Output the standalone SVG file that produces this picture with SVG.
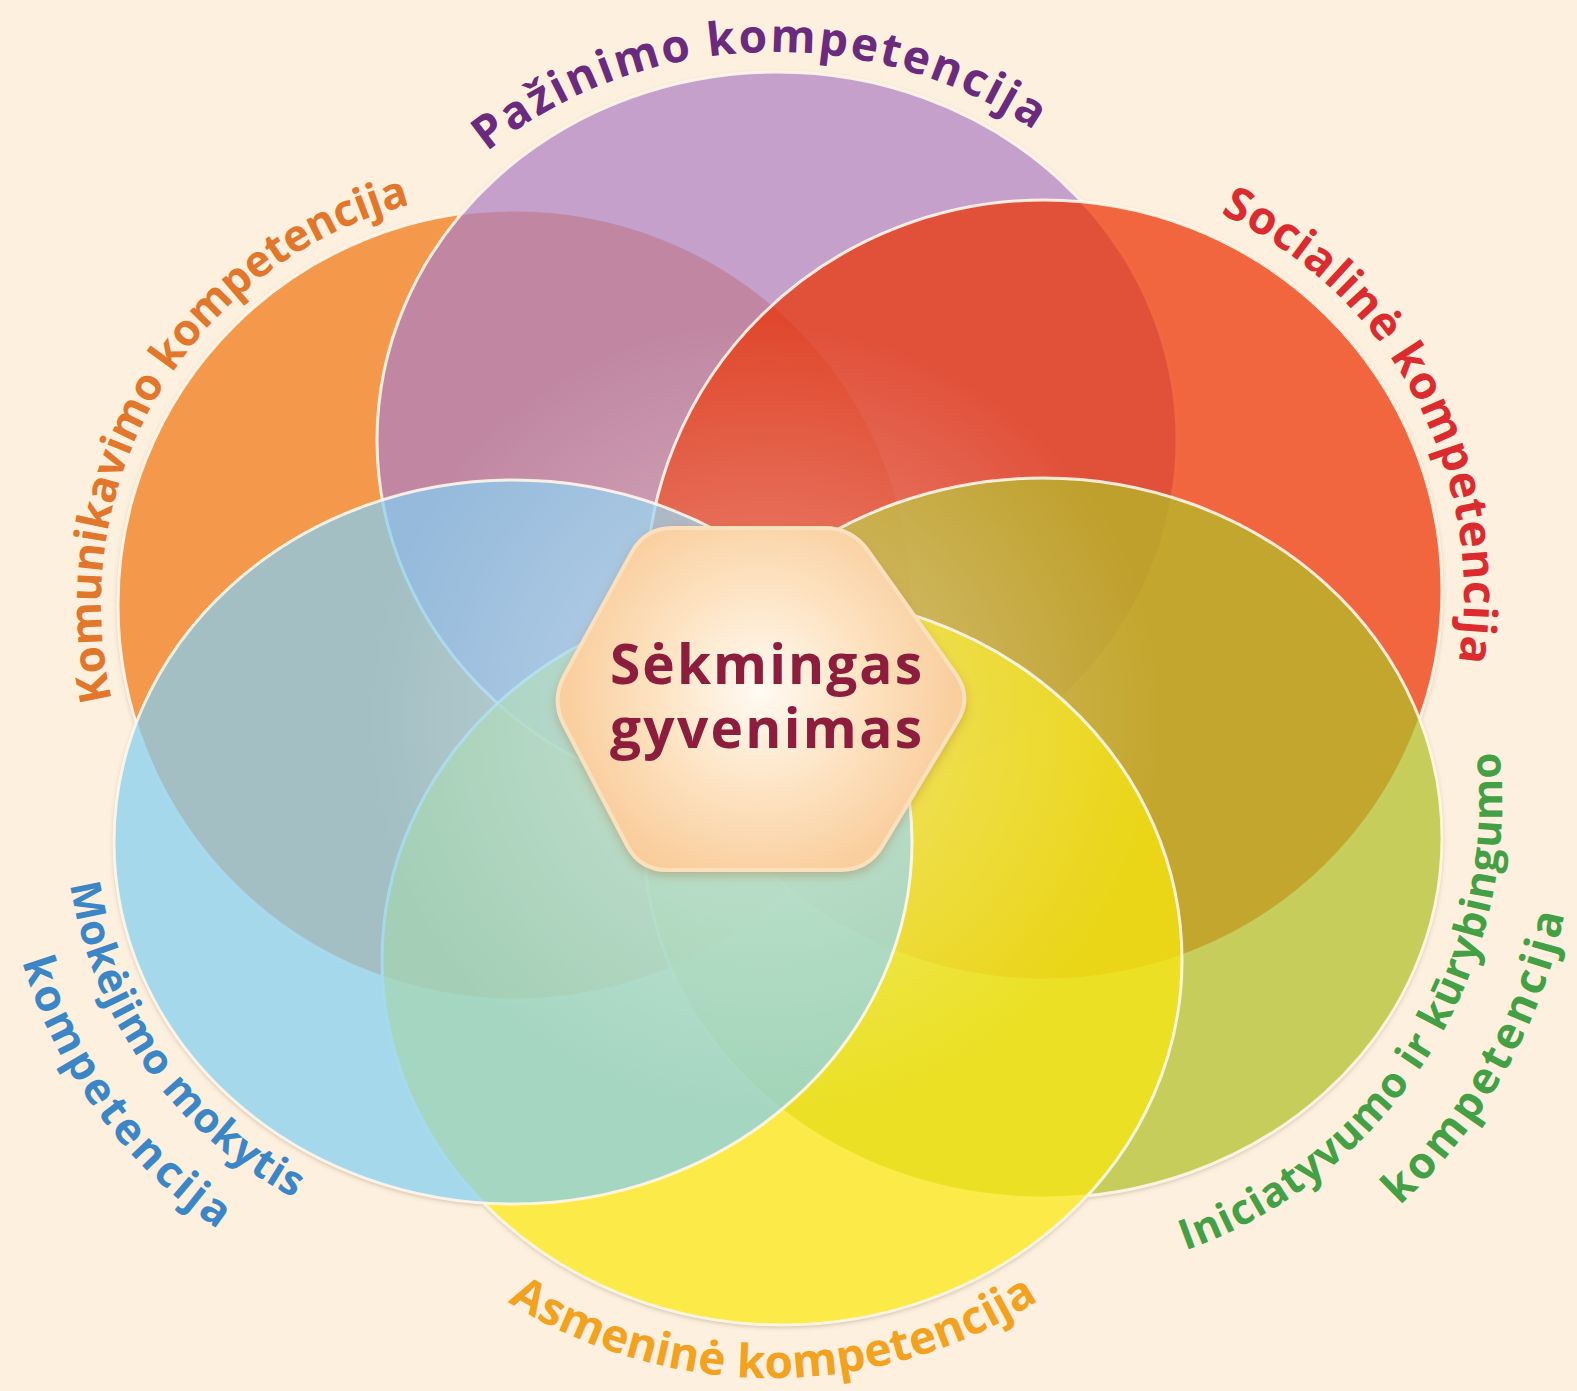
<svg xmlns="http://www.w3.org/2000/svg" width="1577" height="1391" viewBox="0 0 1577 1391">
<defs>
<style>
.lbl{font-family:"Open Sans","Noto Sans","DejaVu Sans",sans-serif;font-weight:700;font-size:46px}
.ctr{font-family:"Open Sans","Noto Sans","DejaVu Sans",sans-serif;font-weight:700;font-size:55px;fill:#8c1d3d}
.ring{stroke:#fff7ea;stroke-width:3;stroke-opacity:.9}
.c{fill-opacity:.72}
</style>
<filter id="sh" x="-10%" y="-10%" width="120%" height="120%">
<feDropShadow dx="0" dy="2" stdDeviation="2.5" flood-color="#7a5a45" flood-opacity=".4"/>
</filter>
<filter id="hsh" x="-20%" y="-20%" width="140%" height="140%">
<feDropShadow dx="0" dy="4" stdDeviation="5" flood-color="#a06a30" flood-opacity=".35"/>
</filter>
<radialGradient id="glow" cx="765" cy="720" r="400" gradientUnits="userSpaceOnUse">
<stop offset="0" stop-color="#fff" stop-opacity=".42"/>
<stop offset=".55" stop-color="#fff" stop-opacity=".18"/>
<stop offset="1" stop-color="#fff" stop-opacity="0"/>
</radialGradient>
<radialGradient id="hex" cx="760" cy="690" r="230" gradientUnits="userSpaceOnUse">
<stop offset="0" stop-color="#fffaf3"/>
<stop offset=".45" stop-color="#fde3c2"/>
<stop offset="1" stop-color="#f8c690"/>
</radialGradient>
<path id="pPaz" d="M481.7,156.4 A430,388 0 0 1 1039.7,134.3"/>
<path id="pKom" d="M112.3,700.9 A414,414 0 0 1 411.3,204.2"/>
<path id="pSoc" d="M1214.8,211.3 A420,420 0 0 1 1457.6,667.9"/>
<path id="pIni1" d="M1169.9,1255.7 A476,476 0 0 0 1497.4,735.7"/>
<path id="pIni2" d="M1394,1210.7 A550,550 0 0 0 1565.9,906.9"/>
<path id="pAsm" d="M504.8,1299.9 A496,496 0 0 0 1042.1,1298"/>
<path id="pMok1" d="M69.5,880.1 A430,430 0 0 0 297.8,1200.1"/>
<path id="pMok2" d="M19.8,953.7 A496,496 0 0 0 224.9,1233.9"/>
</defs>
<rect width="1577" height="1391" fill="#fdf0de"/>
<g id="shadows" filter="url(#sh)" fill="#fdf0de">
<ellipse cx="515" cy="605" rx="397" ry="395"/>
<ellipse cx="777" cy="440" rx="400" ry="368"/>
<ellipse cx="1044" cy="590" rx="398" ry="390"/>
<ellipse cx="1043" cy="838" rx="399" ry="360"/>
<ellipse cx="782" cy="960" rx="400" ry="365"/>
<ellipse cx="513" cy="842" rx="399" ry="362"/>
</g>
<g id="komunikavimo">
<ellipse class="ring" cx="515" cy="605" rx="397" ry="395" fill="#f4984c"/>
<text class="lbl" fill="#e2762a" style="font-size:44px"><textPath href="#pKom" startOffset="50%" text-anchor="middle" textLength="640">Komunikavimo kompetencija</textPath></text>
</g>
<g id="pazinimo">
<ellipse class="ring c" cx="777" cy="440" rx="400" ry="368" fill="#ad81c4"/>
<text class="lbl" fill="#6a2a7e"><textPath href="#pPaz" startOffset="50%" text-anchor="middle" textLength="585">Pažinimo  kompetencija</textPath></text>
</g>
<g id="socialine">
<ellipse class="ring c" cx="1044" cy="590" rx="398" ry="390" fill="#eb3000"/>
<text class="lbl" fill="#dc2b2f"><textPath href="#pSoc" startOffset="50%" text-anchor="middle" textLength="545">Socialinė  kompetencija</textPath></text>
</g>
<g id="iniciatyvumo">
<ellipse class="ring c" cx="1043" cy="838" rx="399" ry="360" fill="#b1bf27"/>
<text class="lbl" fill="#43a045" style="font-size:42px"><textPath href="#pIni1" startOffset="50%" text-anchor="middle" textLength="635">Iniciatyvumo ir kūrybingumo</textPath></text>
<text class="lbl" fill="#43a045" style="font-size:44px"><textPath href="#pIni2" startOffset="50%" text-anchor="middle" textLength="340">kompetencija</textPath></text>
</g>
<g id="asmenine">
<ellipse class="ring c" cx="782" cy="960" rx="400" ry="365" fill="#fae80e"/>
<text class="lbl" fill="#f2a21e"><textPath href="#pAsm" startOffset="50%" text-anchor="middle" textLength="560">Asmeninė kompetencija</textPath></text>
</g>
<g id="mokejimo">
<ellipse class="ring c" cx="513" cy="842" rx="399" ry="362" fill="#84cff1"/>
<text class="lbl" fill="#3b86c6" style="font-size:42px"><textPath href="#pMok1" startOffset="50%" text-anchor="middle" textLength="400">Mokėjimo mokytis</textPath></text>
<text class="lbl" fill="#3b86c6" style="font-size:44px"><textPath href="#pMok2" startOffset="50%" text-anchor="middle" textLength="338">kompetencija</textPath></text>
</g>
<ellipse cx="765" cy="720" rx="400" ry="400" fill="url(#glow)"/>
<g id="sekmingas">
<path filter="url(#hsh)" d="M673,528 L824,528 Q852,528 868.2,550.8 L955.8,674.2 Q972,697 957.6,721 L882.4,846 Q868,870 840,870 L668,870 Q640,870 627,845.2 L564,724.8 Q551,700 564.4,675.4 L631.6,552.6 Q645,528 673,528 Z" fill="url(#hex)" stroke="#fbe0bd" stroke-width="4"/>
<text class="ctr" x="766" y="684" text-anchor="middle" textLength="312">Sėkmingas</text>
<text class="ctr" x="766" y="748" text-anchor="middle" textLength="312">gyvenimas</text>
</g>
</svg>
